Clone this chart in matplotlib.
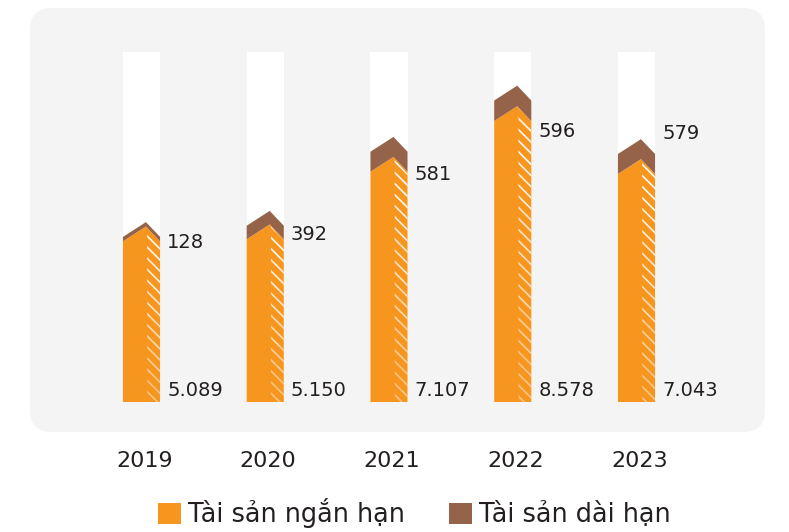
import matplotlib
matplotlib.use('Agg')
import matplotlib.pyplot as plt
from matplotlib.patches import FancyBboxPatch, Polygon, Patch

# data
years = ['2019', '2020', '2021', '2022', '2023']
short_term = [5089, 5150, 7107, 8578, 7043]   # Tài sản ngắn hạn
long_term = [128, 392, 581, 596, 579]         # Tài sản dài hạn
short_labels = ['5.089', '5.150', '7.107', '8.578', '7.043']
long_labels = ['128', '392', '581', '596', '579']

# where the designer put the long-term value labels (data units)
long_label_y = [4640, 4870, 6610, 7830, 7800]

ORANGE = '#F7961E'
BROWN = '#956349'
PANEL = '#F4F4F4'
TEXT = '#231F20'
BSL = chr(92)  # backslash, for the hatch

plt.rcParams['font.family'] = ['DejaVu Sans']
plt.rcParams['hatch.linewidth'] = 1.2

fig = plt.figure(figsize=(7.89, 5.32), dpi=100)

# rounded grey panel (pixel space)
bg = fig.add_axes([0, 0, 1, 1])
bg.set_xlim(0, 789)
bg.set_ylim(532, 0)
bg.axis('off')
bg.add_patch(FancyBboxPatch((30, 8), 735, 424,
                            boxstyle='round,pad=0,rounding_size=22',
                            fc=PANEL, ec='none'))

# bar axes: x=-1..5 -> 17.75..760.25 px, y=0 at 402 px
ax = fig.add_axes([17.75 / 789, 130 / 532, 742.5 / 789, 350 / 532])
ax.patch.set_alpha(0)
ax.set_xlim(-1, 5)
ax.set_ylim(0, 10150)
ax.axis('off')

w = 0.3
roof = 430          # drop from peak to bar edge
peak_frac = 0.62    # peak sits a bit right of centre
top = ax.get_ylim()[1]

xs = list(range(len(years)))
ax.bar(xs, [top] * len(xs), width=w, color='white', zorder=1)

for i, (v, c) in enumerate(zip(short_term, long_term)):
    x0, x1 = i - w / 2, i + w / 2
    xp = x0 + peak_frac * w
    body = Polygon([(x0, 0), (x0, v - roof), (xp, v), (x1, v - roof), (x1, 0)],
                   closed=True, fc=ORANGE, ec='none', zorder=2)
    ax.add_patch(body)
    cap = Polygon([(x0, v - roof), (xp, v), (x1, v - roof),
                   (x1, v - roof + c), (xp, v + c), (x0, v - roof + c)],
                  closed=True, fc=BROWN, ec='none', zorder=2)
    ax.add_patch(cap)

    # striped right side, fading out towards the bottom
    xs0 = xp + 0.01
    y_top_l, y_top_r = v - 60, v - roof - 60
    n = 6
    for k in range(n):
        f0, f1 = k / n, (k + 1) / n
        pts = [(xs0, y_top_l * f0), (x1, y_top_r * f0),
               (x1, y_top_r * f1), (xs0, y_top_l * f1)]
        ax.add_patch(Polygon(pts, closed=True, fc='none', ec='white', lw=0,
                             hatch=BSL * 3, alpha=0.35 + 0.6 * f1, zorder=3))

    ax.annotate(long_labels[i], xy=(x1, long_label_y[i]), xytext=(5, 0),
                textcoords='offset points', ha='left', va='center',
                fontsize=14, color=TEXT)
    ax.annotate(short_labels[i], xy=(x1, 0), xytext=(5, 8),
                textcoords='offset points', ha='left', va='center',
                fontsize=14, color=TEXT)
    ax.annotate(years[i], xy=(i, 0), xytext=(2, -42.5),
                textcoords='offset points', ha='center', va='center',
                fontsize=16, color=TEXT, annotation_clip=False)

handles = [Patch(fc=ORANGE, ec='none', label='Tài sản ngắn hạn'),
           Patch(fc=BROWN, ec='none', label='Tài sản dài hạn')]
fig.legend(handles=handles, loc='lower center', bbox_to_anchor=(0.525, -0.022),
           ncol=2, frameon=False, fontsize=18.4, handlelength=0.9,
           handleheight=0.9, handletextpad=0.27, columnspacing=1.75,
           borderpad=0.1, labelcolor=TEXT)

fig.savefig('out.png', dpi=100)
